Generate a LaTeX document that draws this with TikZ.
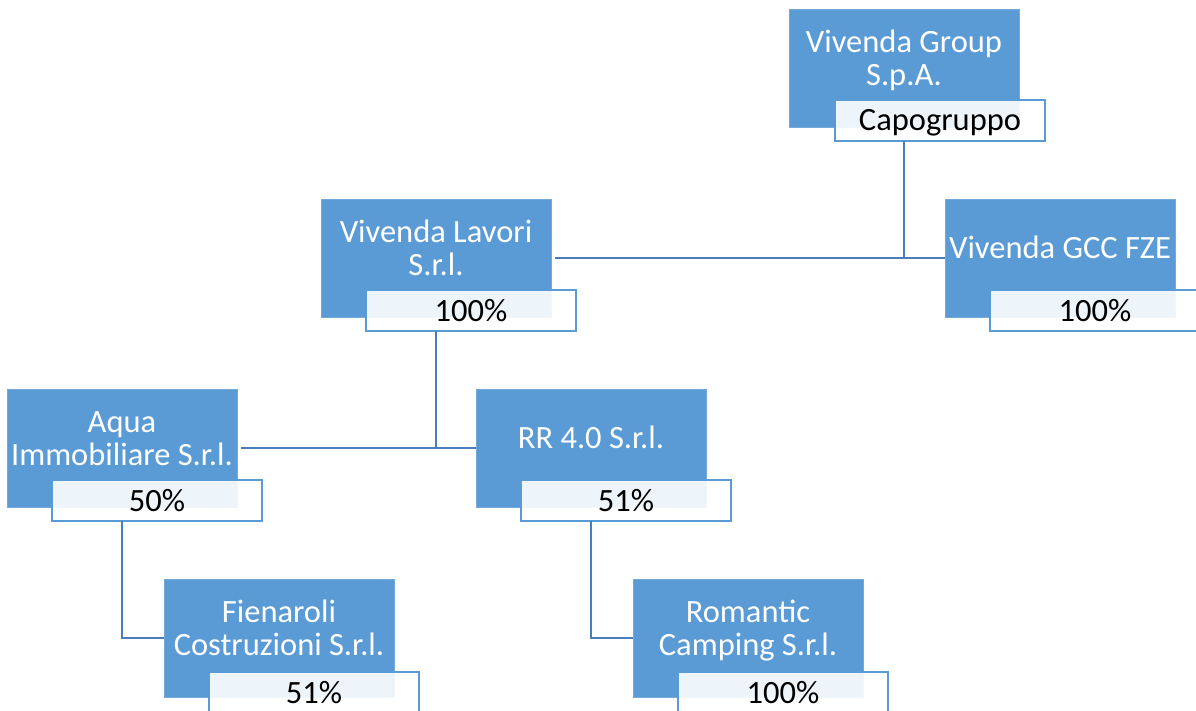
\documentclass[tikz,border=0pt]{standalone}
\usepackage{fontspec}
\setmainfont{Carlito}
\definecolor{boxblue}{HTML}{5B9BD5}
\definecolor{lineblue}{HTML}{4A7EBB}
\begin{document}
\begin{tikzpicture}[x=1pt,y=-1pt,
  orgbox/.style={draw=boxblue!85!white, line width=0.8pt, fill=boxblue, minimum width=230pt, minimum height=118pt, inner sep=0pt, outer sep=0pt, anchor=north west},
  orgtext/.style={text=white, font=\fontsize{32.5}{33}\selectfont, align=center, inner sep=0pt, anchor=center},
  pctbox/.style={draw=boxblue, line width=2pt, fill=white, fill opacity=0.9, text opacity=1, minimum width=210pt, minimum height=41pt, inner sep=0pt, outer sep=0pt, anchor=north west, font=\fontsize{32.5}{33}\selectfont, text=black, text height=21pt, text depth=0pt},
  link/.style={draw=lineblue, line width=2.8pt}]
\useasboundingbox (0,0) rectangle (1196,711);

% boxes
\node[orgbox] (vg) at (789,9) {};
\node[orgtext] (vgt) at (904,62) {\strut Vivenda Group\\\strut S.p.A.};
\node[pctbox] (vgl) at (835,100) {Capogruppo};

\node[orgbox] (vl) at (321,199) {};
\node[orgtext] (vlt) at (436,252) {\strut Vivenda Lavori\\\strut S.r.l.};
\node[pctbox] (vll) at (366,290) {100\%};

\node[orgbox] (gcc) at (945,199) {};
\node[orgtext] (gcct) at (1060,252) {\strut Vivenda GCC FZE};
\node[pctbox] (gccl) at (990,290) {100\%};

\node[orgbox] (aq) at (7,389) {};
\node[orgtext] (aqt) at (122,442) {\strut Aqua\\\strut Immobiliare S.r.l.};
\node[pctbox] (aql) at (52,480) {50\%};

\node[orgbox] (rr) at (476,389) {};
\node[orgtext] (rrt) at (591,442) {\strut RR 4.0 S.r.l.};
\node[pctbox] (rrl) at (521,480) {51\%};

\node[orgbox] (fi) at (164,579) {};
\node[orgtext] (fit) at (279,632) {\strut Fienaroli\\\strut Costruzioni S.r.l.};
\node[pctbox] (fil) at (209,672) {51\%};

\node[orgbox] (ro) at (633,579) {};
\node[orgtext] (rot) at (748,632) {\strut Romantic\\\strut Camping S.r.l.};
\node[pctbox] (rol) at (678,672) {100\%};

% connectors
\draw[link] (vg.south |- vgl.south) -- (vg.south |- vl.east);
\draw[link, shorten <=4pt] (vl.east) -- (gcc.west);
\draw[link] (vl.south |- vll.south) -- (vl.south |- aq.east);
\draw[link, shorten <=4pt] (aq.east) -- (rr.west);
\draw[link] (aq.south |- aql.south) |- (fi.west);
\draw[link] (rr.south |- rrl.south) |- (ro.west);
\end{tikzpicture}
\end{document}
